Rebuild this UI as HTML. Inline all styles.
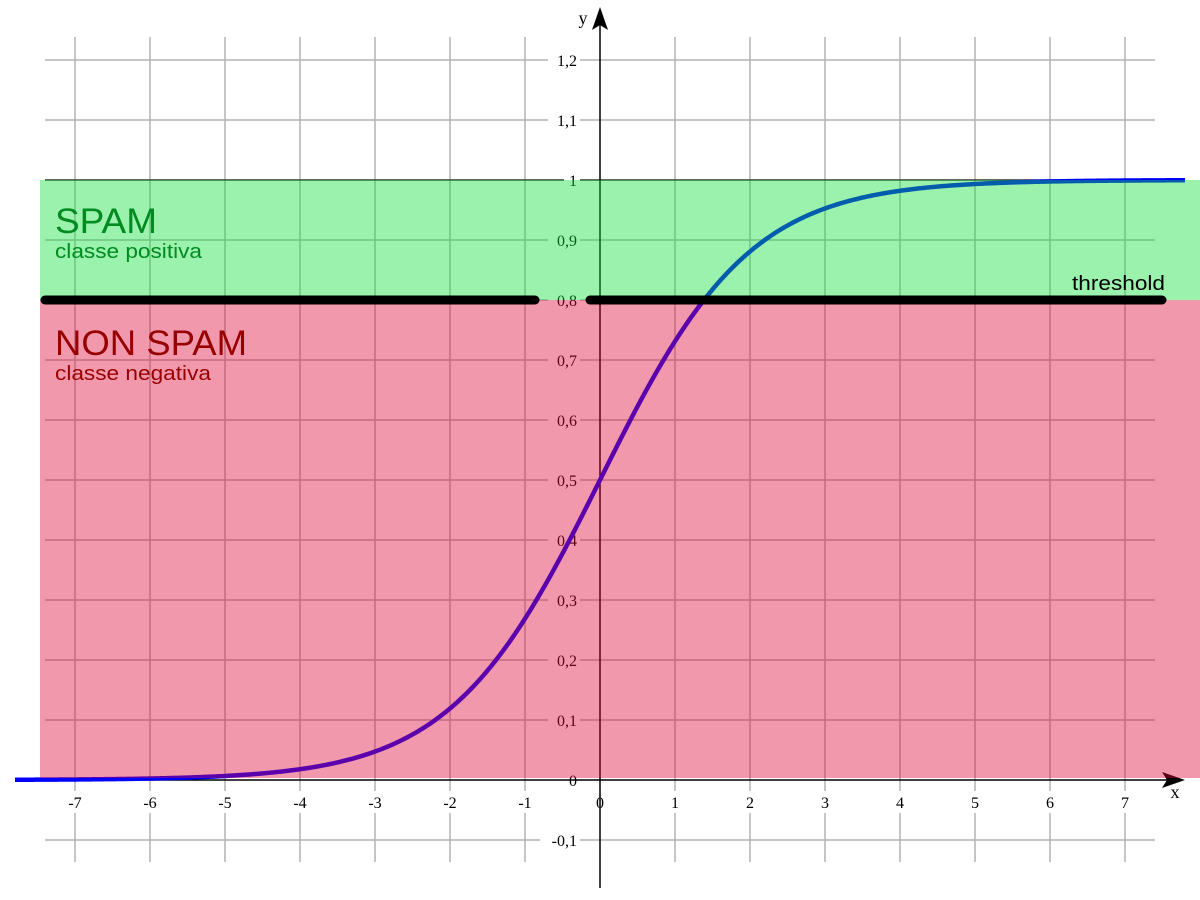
<!DOCTYPE html>
<html><head><meta charset="utf-8"><style>
html,body{margin:0;padding:0;background:#fff}
svg{display:block}
</style></head><body>
<svg id="chart" width="1200" height="900" xmlns="http://www.w3.org/2000/svg">
<g id="grid"></g>
<g id="labels"></g>
<g id="axes"></g>
<g id="curve"></g>
<rect x="40" y="180" width="1160" height="120" fill="rgb(10,224,56)" fill-opacity="0.41"/>
<rect x="40" y="300" width="1160" height="478" fill="rgb(220,5,56)" fill-opacity="0.41"/>
<g id="thresh"></g>
<text x="55" y="233" font-family="Liberation Sans, sans-serif" font-size="35" textLength="102" lengthAdjust="spacingAndGlyphs" fill="#008a22">SPAM</text>
<text x="55" y="258" font-family="Liberation Sans, sans-serif" font-size="20" textLength="147" lengthAdjust="spacingAndGlyphs" fill="#008a22">classe positiva</text>
<text x="55" y="355" font-family="Liberation Sans, sans-serif" font-size="35" textLength="192" lengthAdjust="spacingAndGlyphs" fill="#990000">NON SPAM</text>
<text x="55" y="380" font-family="Liberation Sans, sans-serif" font-size="20" textLength="156" lengthAdjust="spacingAndGlyphs" fill="#990000">classe negativa</text>
<text x="1072" y="290" font-family="Liberation Sans, sans-serif" font-size="20" textLength="93" lengthAdjust="spacingAndGlyphs" fill="#000">threshold</text>
</svg>
<script>
const xTicks=[-7,-6,-5,-4,-3,-2,-1,0,1,2,3,4,5,6,7];
const yTicks=[-0.1,0,0.1,0.2,0.3,0.4,0.5,0.6,0.7,0.8,0.9,1,1.1,1.2];
const thresholdValue=[0.8];
const sigmoidSlope=[1];
const sigmoidCenter=[0];
const NS='http://www.w3.org/2000/svg';
const X=v=>600+v*75, Y=v=>780-v*600;
function mk(t,a,p){const e=document.createElementNS(NS,t);for(const k in a)e.setAttribute(k,a[k]);p.appendChild(e);return e;}
const grid=document.getElementById('grid');
xTicks.forEach(v=>{if(v===0)return;const l=mk('line',{x1:X(v),x2:X(v),y1:37,y2:862,stroke:'#b3b3b3','stroke-width':1.5},grid);

});
yTicks.forEach(v=>{if(Math.abs(v)<1e-9)return;const l=mk('line',{x1:45,x2:1155,y1:Y(v),y2:Y(v),stroke:Math.abs(v-1)<1e-9?'#333':'#b3b3b3','stroke-width':1.5},grid);

});
let d='';for(let px=15;px<=1185;px+=2){const x=(px-600)/75;const y=1/(1+Math.exp(-sigmoidSlope[0]*(x-sigmoidCenter[0])));d+=(px===15?'M':'L')+px+','+Y(y).toFixed(2);}
const c=mk('path',{d:d,fill:'none',stroke:'#0000ff','stroke-width':4.5},document.getElementById('curve'));


const lab=document.getElementById('labels');
xTicks.forEach(v=>{const w=String(v).length*9+8;
const r=mk('rect',{x:X(v)-w/2,y:791,width:w,height:22,fill:'#fff'},lab);


const t=mk('text',{x:X(v),y:808,'text-anchor':'middle','font-family':'Liberation Serif, serif','font-size':16,fill:'#000'},lab);
t.textContent=String(v);

});
yTicks.forEach(v=>{const s=(Math.round(v*10)/10).toString().replace('.',',');const w=s.length*8+8;
const r=mk('rect',{x:580-w,y:Y(v)-11,width:w,height:22,fill:'#fff'},lab);


const t=mk('text',{x:577,y:Y(v)+6,'text-anchor':'end','font-family':'Liberation Serif, serif','font-size':16,fill:'#000'},lab);
t.textContent=s;

});
const ax=document.getElementById('axes');
let a=mk('line',{x1:15,x2:1175,y1:780,y2:780,stroke:'#000','stroke-width':1.5},ax);


a=mk('path',{d:'M1185,780 L1162,772 L1167,780 L1162,788 Z',fill:'#000'},ax);


a=mk('line',{x1:600,x2:600,y1:888,y2:18,stroke:'#000','stroke-width':1.5},ax);


a=mk('path',{d:'M600,7 L592,30 L600,25 L608,30 Z',fill:'#000'},ax);


a=mk('text',{x:1175,y:798,'text-anchor':'middle','font-family':'Liberation Serif, serif','font-size':18},ax);a.textContent='x';


a=mk('text',{x:583,y:24,'text-anchor':'middle','font-family':'Liberation Serif, serif','font-size':18},ax);a.textContent='y';


const th=document.getElementById('thresh');
[[45,535],[590,1162]].forEach(([x1,x2])=>{const l=mk('line',{x1:x1,x2:x2,y1:Y(thresholdValue[0]),y2:Y(thresholdValue[0]),stroke:'#000','stroke-width':9,'stroke-linecap':'round'},th);

});
</script>
</body></html>
